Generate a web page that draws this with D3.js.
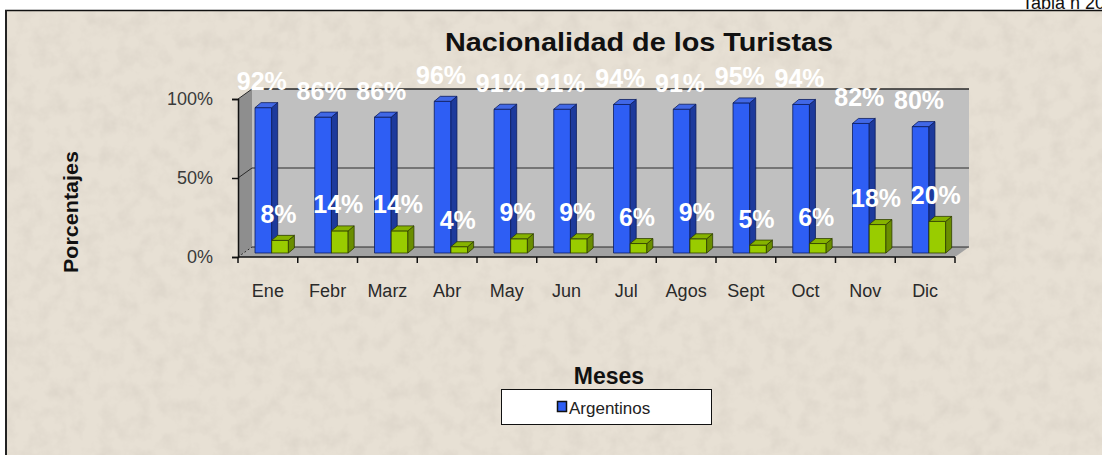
<!DOCTYPE html>
<html>
<head>
<meta charset="utf-8">
<script src="https://cdn.jsdelivr.net/npm/d3@7"></script>
<style>
  body { margin: 0; background: #fff; }
  svg { display: block; }
  text { font-family: "Liberation Sans", Arial, sans-serif; }
</style>
</head>
<body>
<div id="chart"></div>
<script>
// data
const months = ["Ene", "Febr", "Marz", "Abr", "May", "Jun", "Jul", "Agos", "Sept", "Oct", "Nov", "Dic"];
const argentinos = [92, 86, 86, 96, 91, 91, 94, 91, 95, 94, 82, 80];
const extranjeros = [8, 14, 14, 4, 9, 9, 6, 9, 5, 6, 18, 20];
const yTicks = [0, 0.5, 1];

const width = 1102, height = 455;

let svg = d3.select("#chart").append("svg")
  .attr("width", width).attr("height", height);

// paper texture
let defs = svg.append("defs");
let f = defs.append("filter").attr("id", "paper")
  .attr("x", 0).attr("y", 0).attr("width", "100%").attr("height", "100%");
f.append("feTurbulence").attr("type", "fractalNoise")
  .attr("baseFrequency", 0.06).attr("numOctaves", 4).attr("seed", 7);
f.append("feColorMatrix").attr("type", "matrix")
  .attr("values", "0 0 0 0 0.55  0 0 0 0 0.50  0 0 0 0 0.44  0 0 0 0.5 -0.2");

// chart area
svg.append("rect").attr("x", 6).attr("y", 10).attr("width", width - 6).attr("height", height - 10)
  .attr("fill", "#e7e0d4");
svg.append("rect").attr("x", 6).attr("y", 10).attr("width", width - 6).attr("height", height - 10)
  .attr("fill", "#fff").attr("filter", "url(#paper)");
svg.append("line").attr("x1", 5).attr("x2", width).attr("y1", 10.5).attr("y2", 10.5)
  .attr("stroke", "#111").attr("stroke-width", 1.5);
svg.append("line").attr("x1", 6).attr("x2", 6).attr("y1", 10).attr("y2", height)
  .attr("stroke", "#222").attr("stroke-width", 2);

svg.append("text").text("Tabla n 20")
  .attr("x", 1022).attr("y", 9).attr("font-size", 18).attr("fill", "#111");

// plot geometry
const X0 = 238, X1 = 955, DX = 14, DY = -10;
let x = d3.scaleBand().domain(months).range([X0, X1]);
let yFront = d3.scaleLinear().domain([0, 1]).range([257, 99]);
let yBar = d3.scaleLinear().domain([0, 100]).range([253, 95]);
let bw = x.bandwidth();

let walls = svg.append("g");
// left wall
walls.append("path")
  .attr("d", `M${X0},${yFront(0)} L${X0 + DX},${yFront(0) + DY} L${X0 + DX},${yFront(1) + DY} L${X0},${yFront(1)} Z`)
  .attr("fill", "#8e8e8e");
// back wall
walls.append("rect")
  .attr("x", X0 + DX).attr("y", yFront(1) + DY)
  .attr("width", X1 - X0).attr("height", yFront(0) - yFront(1))
  .attr("fill", "#c0c0c0");
// floor
walls.append("path")
  .attr("d", `M${X0},${yFront(0)} L${X1},${yFront(0)} L${X1 + DX},${yFront(0) + DY} L${X0 + DX},${yFront(0) + DY} Z`)
  .attr("fill", "#a2a2a2");

// gridlines
yTicks.forEach(function(t) {
  let yb = yFront(t) + DY;
  walls.append("line")
    .attr("x1", X0 + DX).attr("x2", X1 + DX).attr("y1", yb).attr("y2", yb)
    .attr("stroke", "#2a2a2a").attr("stroke-width", t === 1 ? 1.5 : 1);
  walls.append("line")
    .attr("x1", X0).attr("x2", X0 + DX).attr("y1", yFront(t)).attr("y2", yb)
    .attr("stroke", "#2a2a2a").attr("stroke-width", 1)
    .attr("stroke-dasharray", t === 0 ? "2,2" : null);
});

// 3D bars
const bdx = 6, bdy = -5, barW = 16.7;
const series = [
  { values: argentinos, off: 17, front: "#2e5ef4", side: "#1d3a9c", top: "#4168e6", stroke: "#0d1d5e" },
  { values: extranjeros, off: 17 + barW, front: "#99cc00", side: "#6a8e00", top: "#86b300", stroke: "#2f3d00" }
];

let bars = svg.append("g");
months.forEach(function(m, i) {
  series.forEach(function(s) {
    let v = s.values[i];
    let x0 = x(m) + s.off, x1 = x0 + barW;
    let yt = yBar(v), yb = yBar(0);
    let g = bars.append("g").attr("stroke", s.stroke).attr("stroke-width", 0.8).attr("stroke-linejoin", "round");
    g.append("rect").attr("x", x0).attr("y", yt).attr("width", barW).attr("height", yb - yt)
      .attr("fill", s.front);
    g.append("path")
      .attr("d", `M${x1},${yt} L${x1 + bdx},${yt + bdy} L${x1 + bdx},${yb + bdy} L${x1},${yb} Z`)
      .attr("fill", s.side);
    g.append("path")
      .attr("d", `M${x0},${yt} L${x1},${yt} L${x1 + bdx},${yt + bdy} L${x0 + bdx},${yt + bdy} Z`)
      .attr("fill", s.top);
  });
});

// y axis
let yAxis = svg.append("g").attr("transform", `translate(${X0},0)`)
  .call(d3.axisLeft(yFront).tickValues(yTicks).tickFormat(d3.format(".0%"))
    .tickSize(6).tickPadding(19));
yAxis.select(".domain").attr("stroke", "#111").attr("stroke-width", 1.5);
yAxis.selectAll(".tick line").attr("stroke", "#111").attr("stroke-width", 1.5);
yAxis.selectAll("text").attr("font-size", 18).attr("fill", "#3a3a3a")
  .attr("font-family", "Liberation Sans, Arial, sans-serif");

// x axis: ticks on band edges, labels centred
let xAxis = svg.append("g");
xAxis.append("line").attr("x1", X0).attr("x2", X1).attr("y1", yFront(0)).attr("y2", yFront(0))
  .attr("stroke", "#111").attr("stroke-width", 1.5);
xAxis.selectAll("line.tk").data(d3.range(months.length + 1)).enter()
  .append("line").attr("class", "tk")
  .attr("x1", d => X0 + d * bw).attr("x2", d => X0 + d * bw)
  .attr("y1", yFront(0)).attr("y2", yFront(0) + 6)
  .attr("stroke", "#111").attr("stroke-width", 1.5);
xAxis.selectAll("text").data(months).enter().append("text")
  .attr("x", d => x(d) + bw / 2).attr("y", 297)
  .attr("text-anchor", "middle").attr("font-size", 18).attr("fill", "#2a2a2a")
  .text(d => d);

// value labels
let labels = svg.append("g").attr("fill", "#fff").attr("font-weight", "bold")
  .attr("font-size", 25).attr("text-anchor", "middle");
months.forEach(function(m, i) {
  series.forEach(function(s) {
    let v = s.values[i];
    labels.append("text")
      .attr("x", x(m) + s.off + barW / 2 - 1.5)
      .attr("y", yBar(v) - 17.5)
      .text(v + "%");
  });
});

// titles
svg.append("text").text("Nacionalidad de los Turistas")
  .attr("x", 639).attr("y", 51).attr("text-anchor", "middle")
  .attr("font-size", 25).attr("font-weight", "bold").attr("fill", "#111")
  .attr("textLength", 388).attr("lengthAdjust", "spacingAndGlyphs");

svg.append("text").text("Porcentajes")
  .attr("transform", "translate(78,212) rotate(-90)")
  .attr("text-anchor", "middle").attr("font-size", 20).attr("font-weight", "bold").attr("fill", "#111")
  .attr("textLength", 122).attr("lengthAdjust", "spacingAndGlyphs");

svg.append("text").text("Meses")
  .attr("x", 609).attr("y", 384).attr("text-anchor", "middle")
  .attr("font-size", 23).attr("font-weight", "bold").attr("fill", "#111");

// legend
let legend = svg.append("g");
legend.append("rect").attr("x", 501.5).attr("y", 389.5).attr("width", 210).attr("height", 35)
  .attr("fill", "#fff").attr("stroke", "#111").attr("stroke-width", 1);
legend.append("rect").attr("x", 557.5).attr("y", 401.5).attr("width", 9).attr("height", 10)
  .attr("fill", series[0].front).attr("stroke", "#111").attr("stroke-width", 1.5);
legend.append("text").text("Argentinos")
  .attr("x", 569).attr("y", 414).attr("font-size", 17).attr("fill", "#222");
</script>
</body>
</html>
